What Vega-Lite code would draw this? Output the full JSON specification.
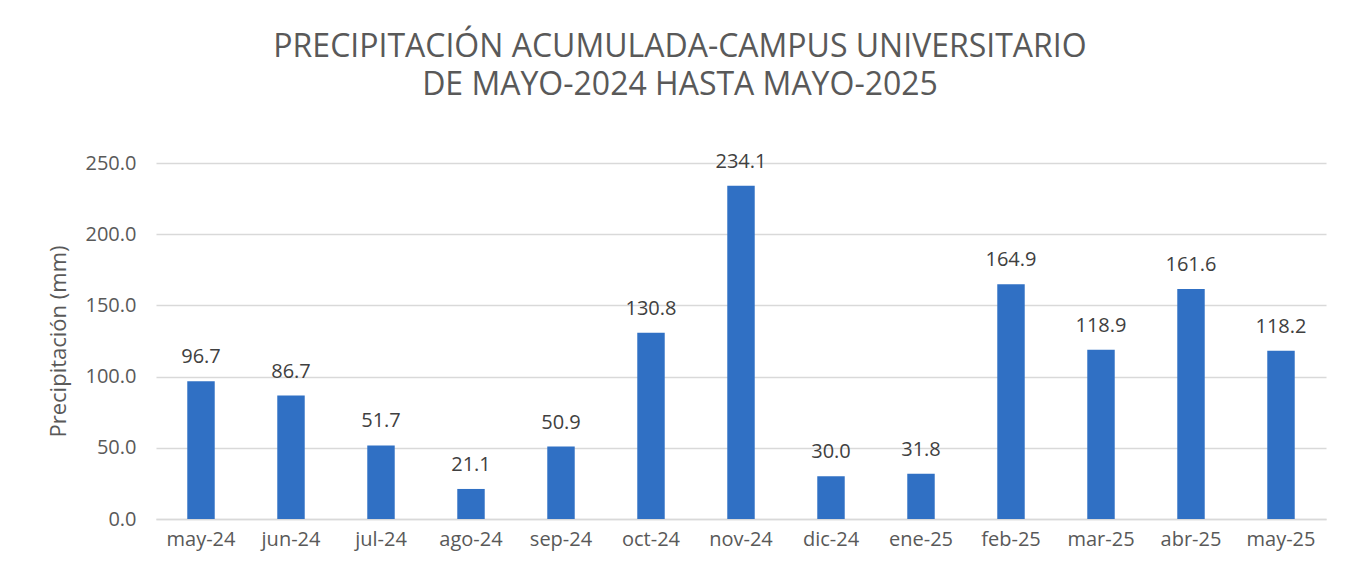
{
  "$schema": "https://vega.github.io/schema/vega-lite/v6.json",
  "width": 1170,
  "height": 356,
  "autosize": {"type": "none"},
  "padding": {"left": 156, "top": 163, "right": 27, "bottom": 64},
  "background": "white",
  "title": {
    "text": ["PRECIPITACIÓN ACUMULADA-CAMPUS UNIVERSITARIO", "DE MAYO-2024 HASTA MAYO-2025"],
    "font": "Open Sans",
    "fontSize": 32,
    "fontWeight": "normal",
    "color": "#595959",
    "anchor": "middle",
    "frame": "group",
    "dx": -61,
    "lineHeight": 38,
    "offset": 50
  },
  "data": {
    "values": [
      {"mes": "may-24", "precip": 96.7},
      {"mes": "jun-24", "precip": 86.7},
      {"mes": "jul-24", "precip": 51.7},
      {"mes": "ago-24", "precip": 21.1},
      {"mes": "sep-24", "precip": 50.9},
      {"mes": "oct-24", "precip": 130.8},
      {"mes": "nov-24", "precip": 234.1},
      {"mes": "dic-24", "precip": 30.0},
      {"mes": "ene-25", "precip": 31.8},
      {"mes": "feb-25", "precip": 164.9},
      {"mes": "mar-25", "precip": 118.9},
      {"mes": "abr-25", "precip": 161.6},
      {"mes": "may-25", "precip": 118.2}
    ]
  },
  "encoding": {
    "x": {
      "field": "mes",
      "type": "nominal",
      "sort": null,
      "scale": {"paddingInner": 0.695, "paddingOuter": 0.3475},
      "axis": {
        "title": null,
        "labelAngle": 0,
        "labelFont": "Open Sans",
        "labelFontSize": 20,
        "labelColor": "#595959",
        "labelPadding": 10,
        "ticks": false,
        "domain": true,
        "domainColor": "#D9D9D9",
        "domainWidth": 1.5
      }
    },
    "y": {
      "field": "precip",
      "type": "quantitative",
      "scale": {"domain": [0, 250], "nice": false},
      "axis": {
        "values": [0, 50, 100, 150, 200, 250],
        "format": ".1f",
        "title": "Precipitación (mm)",
        "titleFont": "Open Sans",
        "titleFontSize": 22,
        "titleFontWeight": "normal",
        "titleColor": "#595959",
        "titlePadding": 15,
        "labelFont": "Open Sans",
        "labelFontSize": 20,
        "labelColor": "#595959",
        "labelPadding": 20,
        "ticks": false,
        "domain": false,
        "grid": true,
        "gridColor": "#D9D9D9",
        "gridWidth": 1.5
      }
    }
  },
  "layer": [
    {"mark": {"type": "bar", "color": "#3070C4"}},
    {
      "mark": {"type": "text", "baseline": "alphabetic", "dy": -18, "font": "Open Sans", "fontSize": 20, "color": "#404040"},
      "encoding": {"text": {"field": "precip", "type": "quantitative", "format": ".1f"}}
    }
  ],
  "config": {"view": {"stroke": null}}
}
